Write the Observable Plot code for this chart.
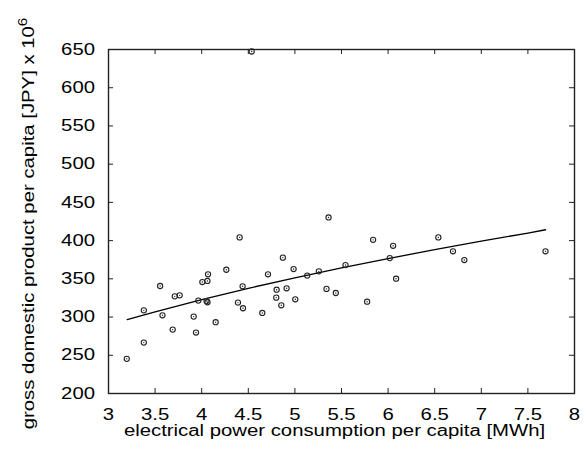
<!DOCTYPE html>
<html><head><meta charset="utf-8">
<script src="https://cdn.jsdelivr.net/npm/d3@7"></script>
<script src="https://cdn.jsdelivr.net/npm/@observablehq/plot@0.6"></script>
<style>html,body{margin:0;padding:0;background:#fff;} #chart svg{display:block;}</style>
</head><body><div id="chart"></div>
<script>
// electrical power consumption per capita [MWh] (one value per prefecture)
const power = [3.196,3.379,3.379,3.554,3.579,3.689,3.711,3.764,3.914,3.939,3.964,4.007,4.061,4.068,4.052,4.062,4.150,4.264,4.407,4.389,4.443,4.439,4.536,4.650,4.711,4.804,4.800,4.854,4.871,4.911,4.986,5.004,5.132,5.257,5.339,5.361,5.439,5.543,5.775,5.839,6.018,6.054,6.086,6.539,6.696,6.818,7.689];
// gross domestic product per capita [JPY] x 10^6
const gdp = [245.3,308.8,266.6,340.6,302.3,283.6,327.1,328.4,300.6,279.7,321.5,345.8,347.2,355.9,320.9,319.4,293.3,361.9,404.2,318.9,311.5,340.2,647.4,305.4,355.9,335.8,325.4,315.4,377.7,337.6,362.8,323.2,354.2,359.8,336.8,430.3,331.5,368.0,320.1,401.0,377.1,393.2,350.2,404.2,386.0,374.6,386.0];
// fitted curve
const fitPower = [3.2,3.5,4,4.5,5,5.5,6,6.5,7,7.5,7.69];
const fitGdp = [296.6,306.8,322.8,337.6,351.3,364.3,376.5,388.2,399.3,409.9,414.2];
const xTicks = [3,3.5,4,4.5,5,5.5,6,6.5,7,7.5,8];
const yTicks = [200,250,300,350,400,450,500,550,600,650];
const xLabel = "electrical power consumption per capita [MWh]";
const yLabel = "gross domestic product per capita [JPY] x 10";
const yLabelExponent = "6";

const points = power.map((x, i) => ({x, y: gdp[i]}));
const fit = fitPower.map((x, i) => ({x, y: fitGdp[i]}));

const W = 583, H = 460, mL = 108, mR = 9, mT = 49, mB = 67;
const pw = W - mL - mR, ph = H - mT - mB, tick = 5;

const chart = Plot.plot({
  width: W, height: H,
  marginLeft: mL, marginRight: mR, marginTop: mT, marginBottom: mB,
  style: {fontFamily: "'Liberation Sans', Arial, sans-serif", fontSize: "16px", background: "#fff", color: "#000"},
  x: {domain: [3, 8]},
  y: {domain: [200, 650]},
  marks: [
    Plot.ruleX(xTicks, {x: d => d, insetTop: ph - tick, stroke: "#222"}),
    Plot.ruleX(xTicks, {x: d => d, insetBottom: ph - tick, stroke: "#222"}),
    Plot.ruleY(yTicks, {y: d => d, insetRight: pw - tick, stroke: "#222"}),
    Plot.ruleY(yTicks, {y: d => d, insetLeft: pw - tick, stroke: "#222"}),
    Plot.frame({stroke: "#222", strokeWidth: 1.4}),
    Plot.axisX(xTicks, {anchor: "bottom", tickSize: 0, tickPadding: 15.5, label: null, tickFormat: d => String(d), fontSize: 16}),
    Plot.axisY(yTicks, {anchor: "left", tickSize: 0, tickPadding: 13.5, label: null, tickFormat: d => String(d), fontSize: 16}),
    Plot.text([xLabel], {frameAnchor: "bottom", text: d => d, dy: 37.5, dx: -7, fontSize: 16, textAnchor: "middle", lineAnchor: "middle"}),
    Plot.text([yLabel], {frameAnchor: "left", text: d => d, rotate: -90, dx: -79.6, dy: 2, fontSize: 16, textAnchor: "middle", lineAnchor: "middle", className: "ylab"}),
    Plot.line(fit, {x: "x", y: "y", stroke: "#000", strokeWidth: 1.3}),
    Plot.dot(points, {x: "x", y: "y", r: 2.6, stroke: "#222", strokeWidth: 1.1}),
    Plot.dot(points, {x: "x", y: "y", r: 0.7, fill: "#222"})
  ]
});
document.getElementById("chart").append(chart);
// superscript exponent on the y label
chart.querySelectorAll("text").forEach(t => {
  if (t.textContent === yLabel) {
    const sup = document.createElementNS("http://www.w3.org/2000/svg", "tspan");
    sup.setAttribute("dy", "-7");
    sup.setAttribute("font-size", "12");
    sup.textContent = yLabelExponent;
    t.appendChild(sup);
  }
});
chart.querySelectorAll("text").forEach(t => {
  const L = t.getComputedTextLength();
  if (L > 0) {
    t.setAttribute("textLength", (L * 1.27).toFixed(2));
    t.setAttribute("lengthAdjust", "spacingAndGlyphs");
  }
});
</script>
</body></html>
